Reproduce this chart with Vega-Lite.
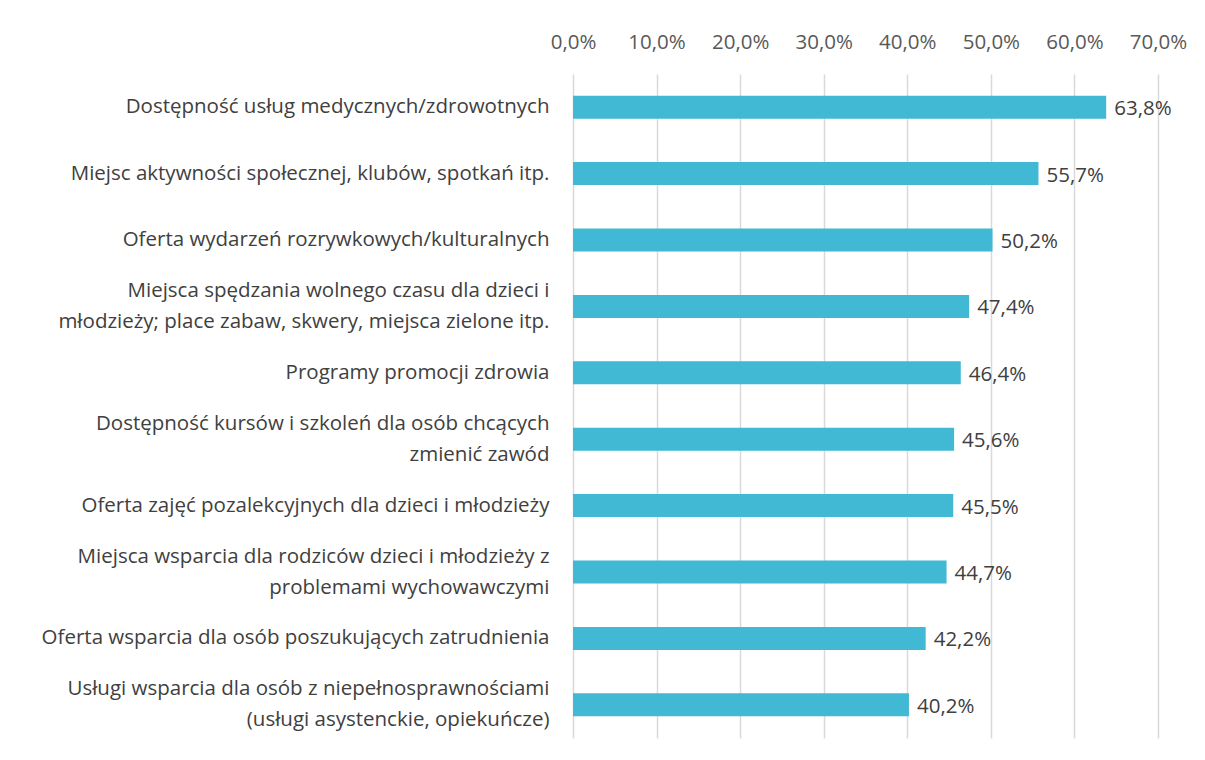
{
  "$schema": "https://vega.github.io/schema/vega-lite/v6.json",
  "width": 585,
  "height": 664,
  "autosize": {"type": "none"},
  "padding": {"left": 573, "top": 74, "right": 47, "bottom": 22},
  "background": "white",
  "config": {
    "locale": {"number": {"decimal": ",", "thousands": " ", "grouping": [3], "currency": ["", " zł"]}},
    "view": {"stroke": null},
    "font": "Open Sans"
  },
  "data": {
    "values": [
      {"label": "Dostępność usług medycznych/zdrowotnych", "value": 0.638},
      {"label": "Miejsc aktywności społecznej, klubów, spotkań itp.", "value": 0.557},
      {"label": "Oferta wydarzeń rozrywkowych/kulturalnych", "value": 0.502},
      {"label": "Miejsca spędzania wolnego czasu dla dzieci i|młodzieży; place zabaw, skwery, miejsca zielone itp.", "value": 0.474},
      {"label": "Programy promocji zdrowia", "value": 0.464},
      {"label": "Dostępność kursów i szkoleń dla osób chcących|zmienić zawód", "value": 0.456},
      {"label": "Oferta zajęć pozalekcyjnych dla dzieci i młodzieży", "value": 0.455},
      {"label": "Miejsca wsparcia dla rodziców dzieci i młodzieży z|problemami wychowawczymi", "value": 0.447},
      {"label": "Oferta wsparcia dla osób poszukujących zatrudnienia", "value": 0.422},
      {"label": "Usługi wsparcia dla osób z niepełnosprawnościami|(usługi asystenckie, opiekuńcze)", "value": 0.402}
    ]
  },
  "encoding": {
    "y": {
      "field": "label", "type": "nominal", "sort": null, "title": null,
      "scale": {"paddingInner": 0.654, "paddingOuter": 0.327},
      "axis": {
        "ticks": false, "domain": false, "labelPadding": 24,
        "labelExpr": "split(datum.label, '|')",
        "labelFontSize": 20.5, "labelColor": "#404040", "labelLineHeight": 31,
        "labelOffset": {"condition": {"test": "indexof(datum.value, '|') >= 0", "value": -15.5}, "value": 0},
        "labelLimit": 600
      }
    },
    "x": {
      "field": "value", "type": "quantitative", "title": null,
      "scale": {"domain": [0, 0.7], "nice": false},
      "axis": {
        "orient": "top", "format": ".1%", "values": [0, 0.1, 0.2, 0.3, 0.4, 0.5, 0.6, 0.7],
        "ticks": false, "domain": false, "labelPadding": 22,
        "labelOverlap": false, "labelFlush": false,
        "labelFontSize": 20.5, "labelColor": "#595959",
        "grid": true, "gridColor": "#d9d9d9", "gridWidth": 1.5
      }
    }
  },
  "layer": [
    {"mark": {"type": "bar", "color": "#41B9D4"}},
    {
      "mark": {"type": "text", "align": "left", "baseline": "middle", "dx": 8, "dy": 2, "fontSize": 20.5, "color": "#404040"},
      "encoding": {"text": {"field": "value", "type": "quantitative", "format": ".1%"}}
    }
  ]
}
